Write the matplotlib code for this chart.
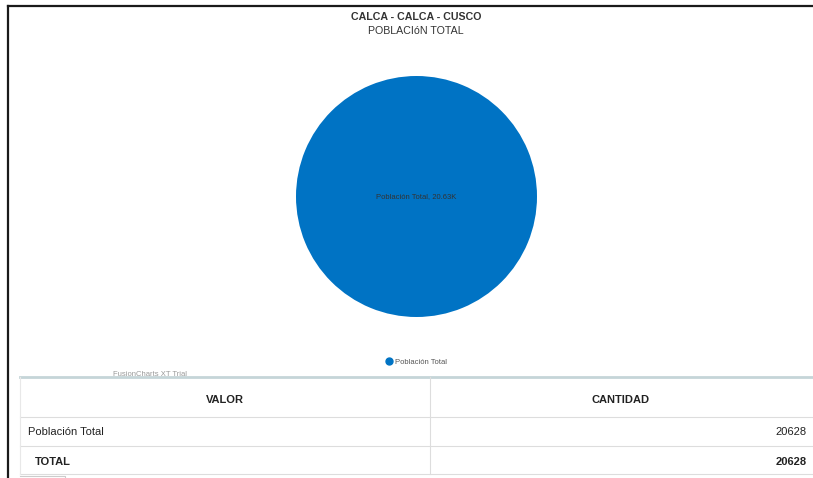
import matplotlib
matplotlib.use('Agg')
import matplotlib.pyplot as plt
from matplotlib.lines import Line2D

plt.rcParams['font.family'] = ['Liberation Sans', 'DejaVu Sans']

# data
titulo = "CALCA - CALCA - CUSCO"
subtitulo = "POBLACIóN TOTAL"
categorias = ["Población Total"]
valores = [20628]
col_headers = ["VALOR", "CANTIDAD"]
color_pie = "#0073c4"

W, H = 813, 478
fig = plt.figure(figsize=(W / 100, H / 100), dpi=100)

# background axes in pixel coords
bg = fig.add_axes([0, 0, 1, 1])
bg.set_xlim(0, W)
bg.set_ylim(H, 0)
bg.axis('off')

# frame of the screenshot
bg.plot([8, W], [6, 6], color='#1a1a1a', lw=1.6)
bg.plot([8, 8], [6, H], color='#1a1a1a', lw=1.6)

# titles
bg.text(416, 17, titulo, ha='center', va='center', fontsize=7.7, fontweight='bold', color='#333333')
bg.text(416, 31, subtitulo, ha='center', va='center', fontsize=7.7, color='#333333')

# pie
ax = fig.add_axes([296 / W, 1 - 317 / H, 241 / W, 241 / H])
wedges, _ = ax.pie(valores, colors=[color_pie], startangle=90, radius=1,
                   wedgeprops=dict(linewidth=0))
ax.set_xlim(-1, 1)
ax.set_ylim(-1, 1)
ax.set_aspect('auto')
ax.axis('off')
for w, cat, v in zip(wedges, categorias, valores):
    ax.text(0, 0, "%s, %.2fK" % (cat, v / 1000.0), ha='center', va='center',
            fontsize=5.5, color='#333333')

# legend
handles = [Line2D([], [], marker='o', color=color_pie, lw=0, markersize=5) for _ in categorias]
fig.legend(handles, categorias, loc='center', bbox_to_anchor=(416 / W, 1 - 362 / H),
           frameon=False, fontsize=5.5, handletextpad=0.3, labelcolor='#555555',
           handlelength=1.0)

bg.text(113, 375, "FusionCharts XT Trial", ha='left', va='center', fontsize=5.5, color='#999999')

# table
total = sum(valores)
bg.plot([20, W], [377, 377], color='#c5d5d8', lw=2)
for y in [417, 446, 474]:
    bg.plot([20, W], [y, y], color='#dddddd', lw=0.8)
bg.plot([430, 430], [377, 474], color='#dddddd', lw=0.8)
bg.plot([20, 20], [377, 474], color='#e8e8e8', lw=0.8)
bg.plot([20, 65, 65], [476, 476, H], color='#cccccc', lw=0.8)

bg.text(225, 400, col_headers[0], ha='center', va='center', fontsize=8, fontweight='bold', color='#222222')
bg.text(621, 400, col_headers[1], ha='center', va='center', fontsize=8, fontweight='bold', color='#222222')
row_y = 432
for cat, v in zip(categorias, valores):
    bg.text(28, row_y, cat, ha='left', va='center', fontsize=8, color='#222222')
    bg.text(807, row_y, str(v), ha='right', va='center', fontsize=8, color='#222222')
    row_y += 30
bg.text(35, 462, "TOTAL", ha='left', va='center', fontsize=8, fontweight='bold', color='#222222')
bg.text(807, 462, str(total), ha='right', va='center', fontsize=8, fontweight='bold', color='#222222')

fig.savefig('out.png', dpi=100)
